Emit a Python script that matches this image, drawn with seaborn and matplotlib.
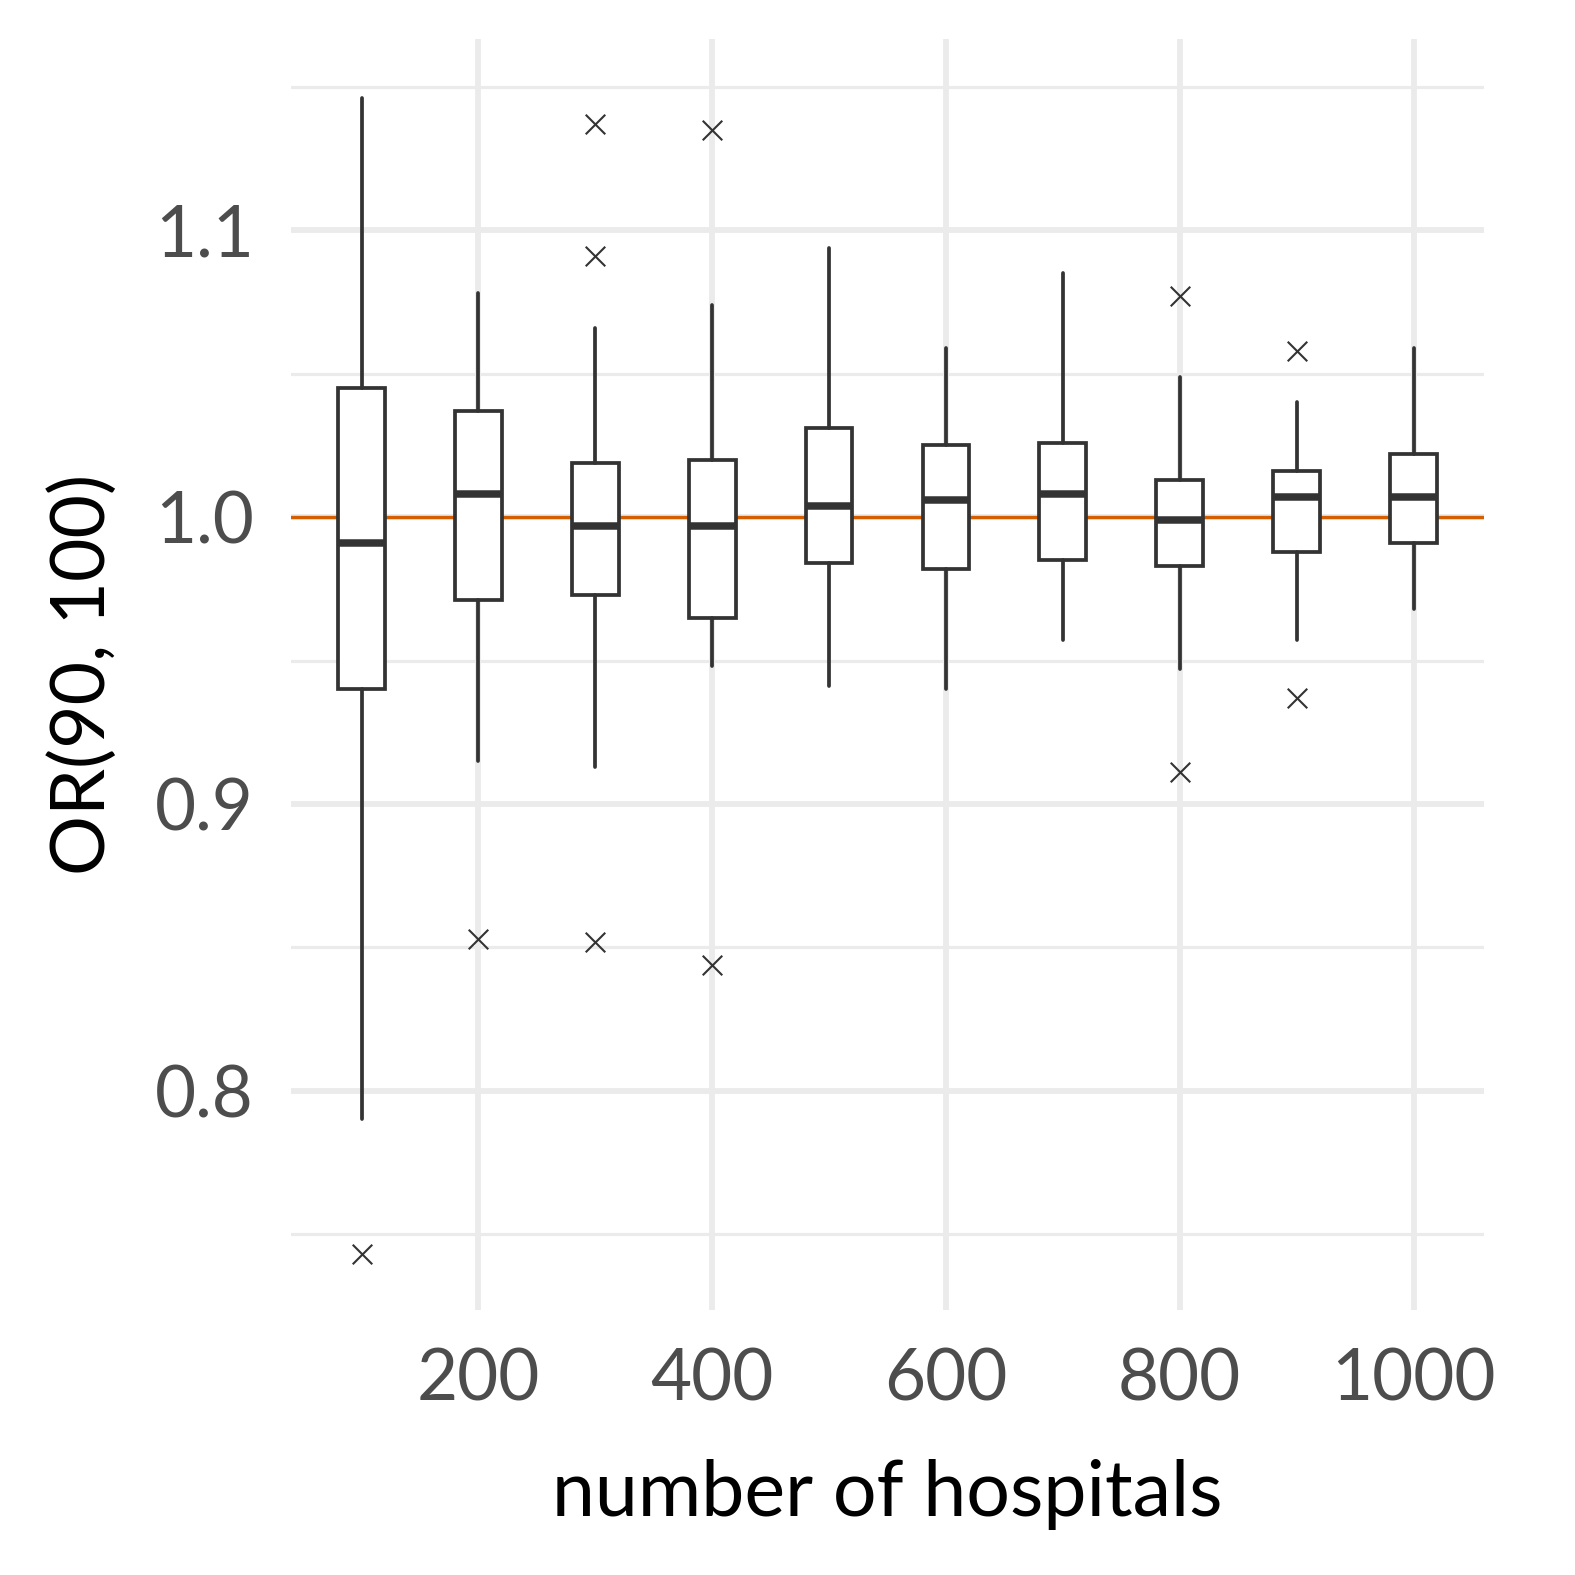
import matplotlib
matplotlib.use("Agg")
import matplotlib.pyplot as plt
import seaborn as sns
import pandas as pd

# summary statistics, one entry per number of hospitals
hospitals = [100, 200, 300, 400, 500, 600, 700, 800, 900, 1000]
whisker_lo = [0.790, 0.915, 0.913, 0.948, 0.941, 0.940, 0.957, 0.947, 0.957, 0.968]
q1 = [0.940, 0.971, 0.973, 0.965, 0.984, 0.982, 0.985, 0.983, 0.988, 0.991]
median = [0.991, 1.008, 0.997, 0.997, 1.004, 1.006, 1.008, 0.999, 1.007, 1.007]
q3 = [1.045, 1.037, 1.019, 1.020, 1.031, 1.025, 1.026, 1.013, 1.016, 1.022]
whisker_hi = [1.146, 1.078, 1.066, 1.074, 1.094, 1.059, 1.085, 1.049, 1.040, 1.059]

# outliers
flier_x = [100, 200, 300, 300, 300, 400, 400, 800, 800, 900, 900]
flier_y = [0.743, 0.853, 1.137, 1.091, 0.852, 1.135, 0.844, 1.077, 0.911, 1.058, 0.937]

true_or = 1.0

sns.set_theme(style="white")
plt.rcParams["font.family"] = ["Lato", "DejaVu Sans"]

fig = plt.figure(figsize=(5.25, 5.25), dpi=300)
ax = fig.add_axes([0.185, 0.168, 0.757, 0.807])

# grid like ggplot theme_minimal
for y in [0.8, 0.9, 1.0, 1.1]:
    ax.axhline(y, color="#EBEBEB", lw=1.4, zorder=0)
for y in [0.75, 0.85, 0.95, 1.05, 1.15]:
    ax.axhline(y, color="#EBEBEB", lw=0.75, zorder=0)
for x in [200, 400, 600, 800, 1000]:
    ax.axvline(x, color="#EBEBEB", lw=1.4, zorder=0)

ax.axhline(true_or, color="#D55E00", lw=0.8, zorder=1)

stats = []
for i in range(len(hospitals)):
    stats.append(dict(whislo=whisker_lo[i], q1=q1[i], med=median[i],
                      q3=q3[i], whishi=whisker_hi[i], fliers=[]))
ax.bxp(stats, positions=hospitals, widths=40, showfliers=False,
       showcaps=False, patch_artist=True,
       boxprops=dict(facecolor="white", edgecolor="#333333", lw=0.9),
       medianprops=dict(color="#333333", lw=1.8, solid_capstyle="butt"),
       whiskerprops=dict(color="#333333", lw=0.9),
       manage_ticks=False, zorder=2)

fl = pd.DataFrame({"hospitals": flier_x, "OR": flier_y})
sns.scatterplot(data=fl, x="hospitals", y="OR", marker="x", s=22,
                color="#333333", linewidth=0.5, ax=ax, zorder=3)

ax.set_xlim(40, 1060)
ax.set_ylim(0.7234, 1.1666)
ax.set_xticks([200, 400, 600, 800, 1000])
ax.set_yticks([0.8, 0.9, 1.0, 1.1])
ax.set_yticklabels(["0.8", "0.9", "1.0", "1.1"])
ax.tick_params(axis="both", length=0, labelsize=17, labelcolor="#4D4D4D", pad=9)
for s in ax.spines.values():
    s.set_visible(False)
ax.grid(False)

ax.set_xlabel("number of hospitals", fontsize=18.5, color="black", labelpad=11)
ax.set_ylabel("OR(90, 100)", fontsize=18, color="black", labelpad=9)

fig.savefig("out.png", dpi=300)
